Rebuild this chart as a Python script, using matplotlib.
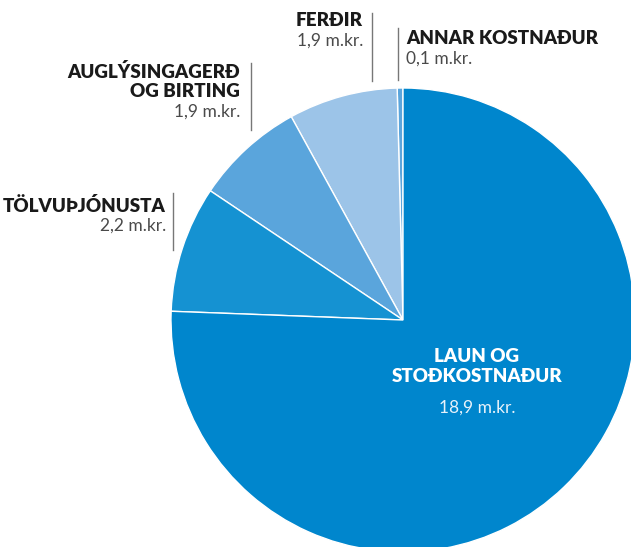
import matplotlib
matplotlib.use("Agg")
import matplotlib.pyplot as plt

# Gögn
flokkar = ["ANNAR KOSTNAÐUR", "FERÐIR", "AUGLÝSINGAGERÐ\nOG BIRTING", "TÖLVUÞJÓNUSTA", "LAUN OG\nSTOÐKOSTNAÐUR"]
gildi = [0.1, 1.9, 1.9, 2.2, 18.9]
gildi_txt = ["0,1 m.kr.", "1,9 m.kr.", "1,9 m.kr.", "2,2 m.kr.", "18,9 m.kr."]
litir = ["#5aa5dc", "#9cc4e8", "#5aa5dc", "#1592d2", "#0086cd"]

W, H = 631, 547
fig = plt.figure(figsize=(W / 100, H / 100), dpi=100)
ax = fig.add_axes([0, 0, 1, 1])

ax.pie(gildi, colors=litir, startangle=90, counterclock=True,
       center=(403, H - 320), radius=232,
       wedgeprops=dict(edgecolor="white", linewidth=1))
ax.set_xlim(0, W)
ax.set_ylim(0, H)
ax.set_aspect("auto")
ax.axis("off")

fam = "Lato"
dark = "#1a1a1a"
grey = "#4a4a4a"

def merki(x, y, titill, gildi_s, ha, line_x, y0, y1, gap=20):
    nlin = titill.count("\n") + 1
    ax.text(x, H - y, titill, ha=ha, va="top", fontsize=13.5, fontweight="heavy",
            family=fam, color=dark, linespacing=1.15)
    ax.text(x, H - (y + nlin * gap + 1), gildi_s, ha=ha, va="top", fontsize=12.5,
            fontweight="normal", family=fam, color=grey)
    ax.plot([line_x, line_x], [H - y0, H - y1], color="#777777", lw=1)

merki(363, 12, flokkar[1], gildi_txt[1], "right", 372, 13, 81)
merki(406, 30, flokkar[0], gildi_txt[0], "left", 398, 28, 80)
merki(240, 63, flokkar[2], gildi_txt[2], "right", 251, 63, 130)
merki(166, 197, flokkar[3], gildi_txt[3], "right", 173, 193, 250)

ax.text(477, H - 348, flokkar[4], ha="center", va="top", fontsize=13.5,
        fontweight="heavy", family=fam, color="white", linespacing=1.25)
ax.text(477, H - 400, gildi_txt[4], ha="center", va="top", fontsize=12.5,
        fontweight="normal", family=fam, color="#e8f2fa")

fig.savefig("out.png", dpi=100)
